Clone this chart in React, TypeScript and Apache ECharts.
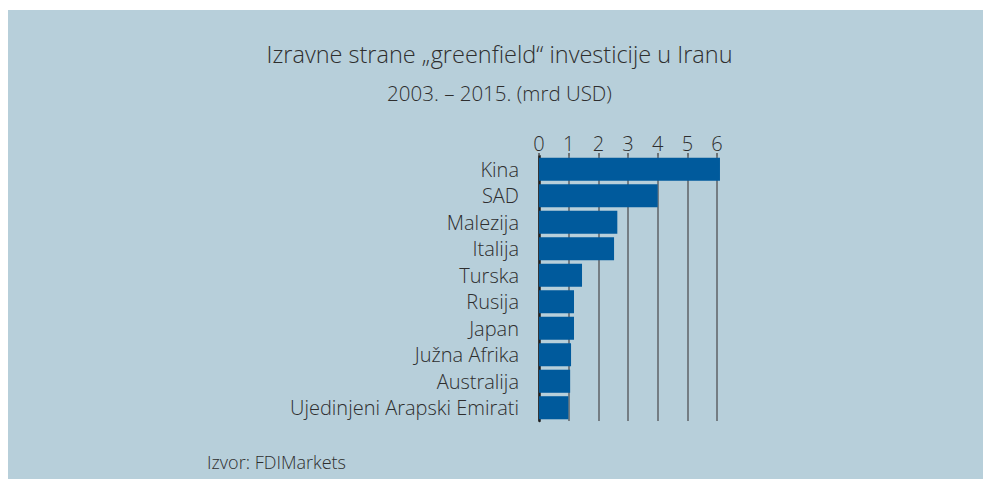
import React, { useEffect, useRef } from "react";
import * as echarts from "echarts";

const countries = [
  "Kina",
  "SAD",
  "Malezija",
  "Italija",
  "Turska",
  "Rusija",
  "Japan",
  "Južna Afrika",
  "Australija",
  "Ujedinjeni Arapski Emirati",
];
const values = [6.1, 4.0, 2.64, 2.53, 1.45, 1.18, 1.18, 1.08, 1.05, 0.99];
const titleText = "Izravne strane „greenfield“ investicije u Iranu";
const subtitleText = "2003. – 2015. (mrd USD)";
const sourceText = "Izvor: FDIMarkets";

const FONT = "'Open Sans', 'Noto Sans', sans-serif";
const TEXT = "#2e2e2e";

export default function App() {
  const ref = useRef<HTMLDivElement>(null);
  useEffect(() => {
    if (!ref.current) return;
    const chart = echarts.init(ref.current, null, { renderer: "svg" });
    chart.setOption({
      animation: false,
      backgroundColor: "#b7cfda",
      title: [
        {
          text: titleText,
          left: "center",
          top: 27,
          textStyle: { fontFamily: FONT, fontSize: 23.5, fontWeight: 300, color: TEXT },
        },
        {
          text: subtitleText,
          left: "center",
          top: 67,
          textStyle: { fontFamily: FONT, fontSize: 20.5, fontWeight: 300, color: TEXT },
        },
        {
          text: sourceText,
          left: 194,
          top: 438,
          textStyle: { fontFamily: FONT, fontSize: 18, fontWeight: 300, color: TEXT },
        },
      ],
      grid: { left: 531, top: 146, right: 274, bottom: 60, containLabel: false },
      xAxis: {
        type: "value",
        position: "top",
        min: 0,
        max: 6,
        interval: 1,
        axisLine: { show: false },
        axisTick: { show: true, length: 3, inside: false, lineStyle: { color: "#555", width: 1.5 } },
        axisLabel: { margin: 3, fontFamily: FONT, fontSize: 20, fontWeight: 300, color: TEXT },
        splitLine: { show: true, lineStyle: { color: "#5e6266", width: 1.5 } },
      },
      yAxis: {
        type: "category",
        data: countries,
        inverse: true,
        axisLine: { show: true, lineStyle: { color: "#1e1e1e", width: 2.5 } },
        axisTick: { show: false },
        axisLabel: { margin: 20, fontFamily: FONT, fontSize: 20, fontWeight: 300, color: TEXT },
      },
      series: [
        {
          type: "bar",
          data: values,
          clip: false,
          barCategoryGap: "13%",
          itemStyle: { color: "#005a9c" },
        },
      ],
    });
    return () => chart.dispose();
  }, []);
  return (
    <div style={{ position: "relative", top: 2 }}>
      <div ref={ref} style={{ width: 983, height: 471 }} />
    </div>
  );
}
